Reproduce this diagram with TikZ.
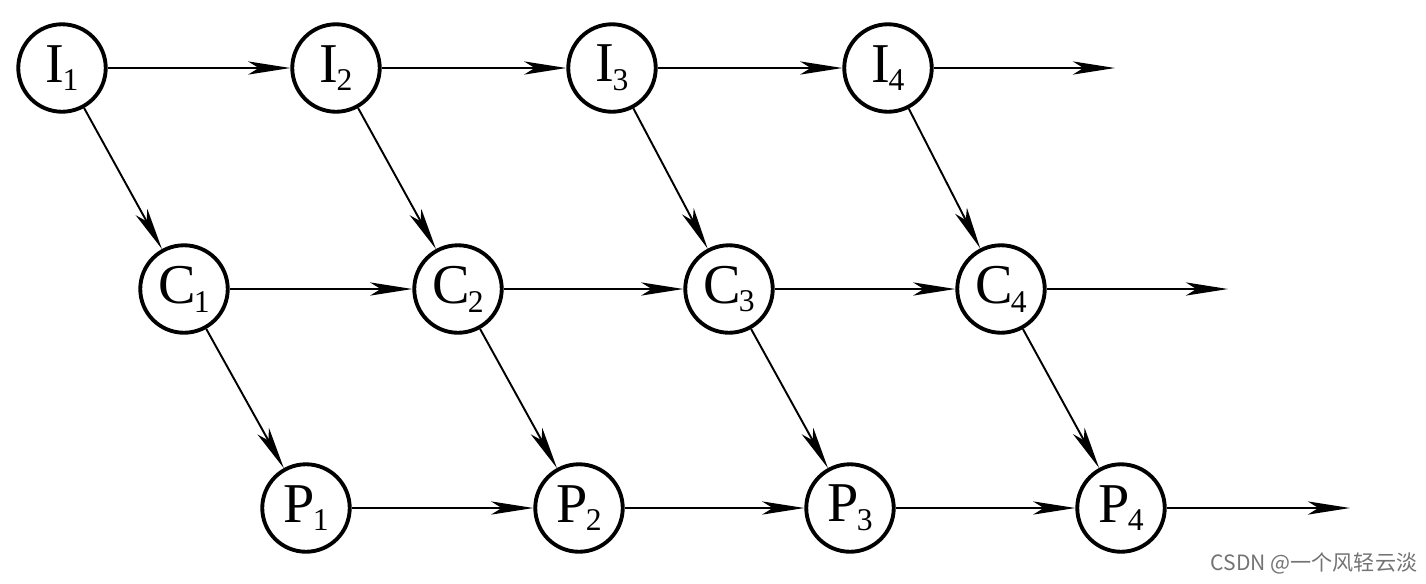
\documentclass[tikz,border=0pt]{standalone}
\usepackage{fontspec}
\setmainfont{Liberation Serif}
\newfontfamily\cjkfont{Noto Sans CJK SC}
\usetikzlibrary{arrows.meta}
\newcommand{\stagesub}[1]{\kern-1pt\raisebox{-5pt}{\fontsize{18pt}{18pt}\selectfont #1}}

\begin{document}
\begin{tikzpicture}
  [
    x=0.02cm, y=-0.02cm,
    stage/.style={circle,draw,line width=2.2pt,minimum size=1.75cm,inner sep=0pt,
      font=\fontsize{32pt}{32pt}\selectfont},
    flow/.style={line width=1.1pt,-{Stealth[length=24pt,width=7.5pt,inset=6pt]}}
  ]
  \useasboundingbox (0,0) rectangle (1426,583);
  % fetch row
  \foreach \n/\x in {1/62,2/336,3/612,4/888} {
    \node [stage] (I\n) at (\x,68) {I\stagesub{\n}};
  }
  % decode row
  \foreach \n/\x in {1/184,2/458,3/729,4/1001} {
    \node [stage] (C\n) at (\x,289) {C\stagesub{\n}};
  }
  % execute row
  \foreach \n/\x in {1/306,2/579,3/850,4/1121} {
    \node [stage] (P\n) at (\x,508) {P\stagesub{\n}};
  }
  % free ends
  \coordinate (Iend) at (1115,68);
  \coordinate (Cend) at (1228,289);
  \coordinate (Pend) at (1350,508);
  % row edges
  \foreach \r in {I,C,P} {
    \draw [flow] (\r1) -- (\r2);
    \draw [flow] (\r2) -- (\r3);
    \draw [flow] (\r3) -- (\r4);
    \draw [flow] (\r4) -- (\r end);
  }
  % stage edges
  \foreach \n in {1,2,3,4} {
    \draw [flow] (I\n) -- (C\n);
    \draw [flow] (C\n) -- (P\n);
  }
  % watermark
  \node [font=\cjkfont\fontsize{12pt}{14pt}\selectfont,text=black!55] (mark) at (1314,563) {CSDN @一个风轻云淡};
\end{tikzpicture}
\end{document}
